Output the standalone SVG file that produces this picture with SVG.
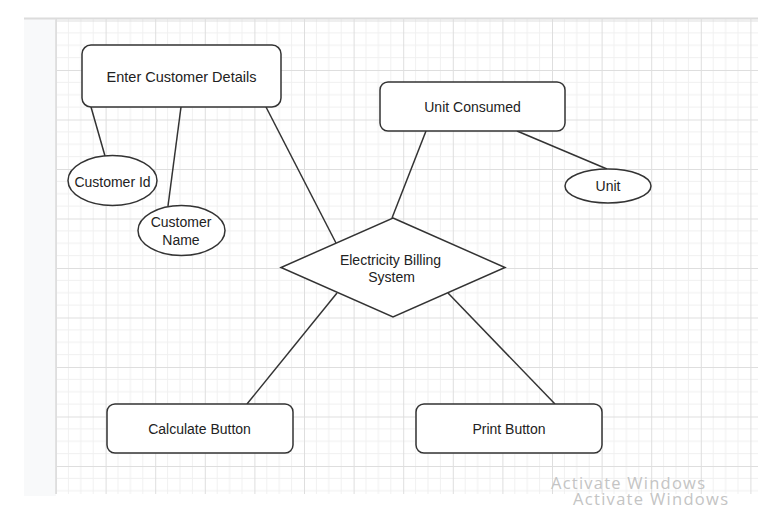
<svg xmlns="http://www.w3.org/2000/svg" width="776" height="509" viewBox="0 0 776 509">
<defs>
<pattern id="grid" patternUnits="userSpaceOnUse" x="56" y="20.5" width="49.6" height="49.5">
<path d="M12.4 0V49.5M24.8 0V49.5M37.2 0V49.5M0 12.4H49.6M0 24.75H49.6M0 37.1H49.6" stroke="#f0f0f0" stroke-width="1" fill="none"/>
<path d="M0.5 0V49.5M0 0.5H49.6" stroke="#dedede" stroke-width="1" fill="none"/>
</pattern>
<style>
.shape{fill:#fff;stroke:#333;stroke-width:1.5}
.edge{stroke:#333;stroke-width:1.5;fill:none}
.lbl{font-family:"Liberation Sans",Arial,sans-serif;font-size:14px;fill:#222;text-anchor:middle}
.wm{font-family:"Open Sans","Noto Sans",sans-serif;font-size:16.5px;fill:#c4c4c4}
</style>
</defs>
<rect width="776" height="509" fill="#fff"/>
<rect x="24" y="19" width="32" height="477" fill="#f8f9fa"/>
<rect x="56" y="19" width="702" height="475" fill="url(#grid)"/>
<line x1="24" y1="18.5" x2="758" y2="18.5" stroke="#dcdcdc" stroke-width="2"/>
<line x1="55.5" y1="19" x2="55.5" y2="494" stroke="#e2e2e2" stroke-width="1"/>
<g id="connectors">
<line class="edge" x1="91" y1="107" x2="105" y2="156"/>
<line class="edge" x1="181" y1="107" x2="168" y2="206"/>
<line class="edge" x1="266" y1="107" x2="336" y2="243"/>
<line class="edge" x1="426" y1="131" x2="392" y2="218"/>
<line class="edge" x1="517" y1="131" x2="607" y2="169"/>
<line class="edge" x1="337" y1="293" x2="247" y2="404"/>
<line class="edge" x1="448" y1="293" x2="555" y2="404"/>
</g>
<g id="enter-customer-details">
<rect class="shape" x="82" y="45" width="199" height="62" rx="9"/>
<text class="lbl" x="181.5" y="81.5" style="font-size:14.5px">Enter Customer Details</text>
</g>
<g id="unit-consumed">
<rect class="shape" x="380" y="82" width="185" height="49" rx="8"/>
<text class="lbl" x="472.5" y="112">Unit Consumed</text>
</g>
<g id="unit">
<ellipse class="shape" cx="608" cy="186" rx="43" ry="17"/>
<text class="lbl" x="608" y="191">Unit</text>
</g>
<g id="customer-id">
<ellipse class="shape" cx="112.5" cy="180.5" rx="44.5" ry="25"/>
<text class="lbl" x="112.5" y="187">Customer Id</text>
</g>
<g id="customer-name">
<ellipse class="shape" cx="181.5" cy="230.5" rx="43.5" ry="25"/>
<text class="lbl" x="181" y="227">Customer</text>
<text class="lbl" x="181" y="244.5">Name</text>
</g>
<g id="electricity-billing-system">
<polygon class="shape" points="393,218 505,267.5 393,317 281,267.5"/>
<text class="lbl" x="390.5" y="264.5">Electricity Billing</text>
<text class="lbl" x="391.5" y="282">System</text>
</g>
<g id="calculate-button">
<rect class="shape" x="107" y="404" width="186" height="49" rx="8"/>
<text class="lbl" x="199.5" y="434">Calculate Button</text>
</g>
<g id="print-button">
<rect class="shape" x="416" y="404" width="186" height="49" rx="8"/>
<text class="lbl" x="509" y="434">Print Button</text>
</g>
<text class="wm" x="551" y="489" textLength="154">Activate Windows</text>
<text class="wm" x="573" y="505" textLength="155">Activate Windows</text>
</svg>
